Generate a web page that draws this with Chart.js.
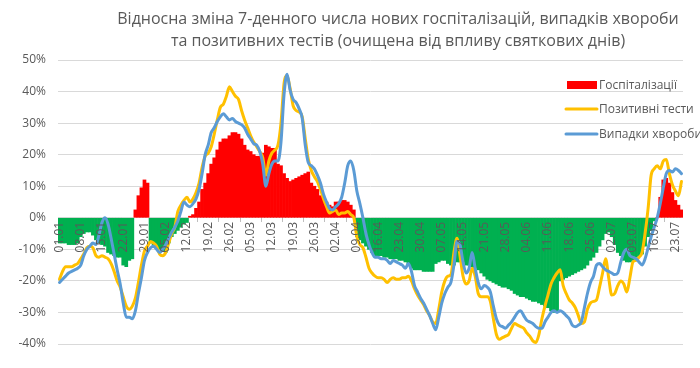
<!DOCTYPE html>
<html><head><meta charset="utf-8">
<script src="https://cdn.jsdelivr.net/npm/chart.js@4.4.0/dist/chart.umd.min.js"></script>
<style>html,body{margin:0;padding:0;background:#fff}#wrap{width:700px;height:368px;position:relative}</style>
</head><body><div id="wrap"><canvas id="c" width="700" height="368"></canvas></div>
<script>
// Categories: daily dates 01.01 .. 25.07 (2021)
const dayCount = 206;
const labels = [];
for (let i = 0; i < dayCount; i++) {
  const d = new Date(Date.UTC(2021, 0, 1 + i));
  labels.push(String(d.getUTCDate()).padStart(2, '0') + '.' + String(d.getUTCMonth() + 1).padStart(2, '0'));
}

const titleLines = [
  'Відносна зміна 7-денного числа нових госпіталізацій, випадків хвороби',
  'та позитивних тестів (очищена від впливу святкових днів)'
];
const seriesNames = ['Госпіталізації', 'Позитивні тести', 'Випадки хвороби'];

// Relative change, % (hospitalizations)
const hospitalizations = [
  -8, -8, -8, -8.5, -8.5, -8.5, -8, -6, -5, -4.5, -4.5, -5.5, -7, -8, -8.5, -9, -11, -11.5, -12, -12.5, -12.5, -15, -15.5, -13.5, -13,
  2.5, 7, 9.5, 12, 11,
  -8, -8.5, -9, -10, -10.5, -11, -8, -6, -5, -4, -3, -2, -1.5,
  0.5, 1, 3, 5, 9, 11, 14, 17, 19, 21.5, 24, 25, 25, 26, 27, 27, 26.5, 25,
  23, 21.5, 21, 20, 19.5, 19.5, 20.5, 23, 22.5, 22, 22, 17, 16.5, 14, 12.5, 11.5, 12, 12.5, 13, 13.5, 14, 14.5, 11, 10, 9, 7, 6, 5, 4, 3.5, 5, 5, 5.5, 5.5, 5, 4, 2.5,
  -6, -7, -8, -9, -10, -11, -12, -12, -12, -12.5, -12.5, -13, -13, -13, -13.5, -13.5, -14, -15, -16, -16.5, -16.5, -16.5, -17, -17, -17, -17, -14.5, -14, -13.5, -13.5, -14.5, -15, -15,
  -14, -14, -14, -15, -15, -15.5, -16, -16.5, -17.5, -18.5, -19.5, -20, -20.5, -21, -21.5, -22, -22, -22.5, -23, -24, -24.5, -25, -25, -25.5, -26, -26.5, -26.5, -27, -27.5, -28, -28.5, -29.5, -30, -29.5,
  -20, -19.5, -19, -18.5, -18, -17.5, -17, -16.5, -16, -15, -13.5, -12.5, -11, -9, -7, -5, -4.5, -6, -8.5, -11, -12, -13.5, -14, -14, -13.5, -12.5, -12, -11.5, -9, -6, -4,
  -1, 0,
  6.5, 12, 12.5, 11, 8, 5.5, 4, 2.5
];

// Relative change, % (positive tests)
const positiveTests = [
  -19.5, -17, -15.5, -15.5, -15.5, -15, -14.5, -13, -11.5, -9.5, -9, -9.5, -12, -12.5, -12, -12.5, -13, -14.5, -17, -20, -22, -25, -28, -29, -28, -25.5, -20.5, -15, -10.5, -9, -7.5, -8, -9, -11.5,
  -12, -11, -8, -5, -3, 2, 4, 5.5, 6.5, 5, 6, 8, 11, 16, 19.5, 20.5, 22.5, 26.5, 31, 35, 36, 38.5, 41.5, 40, 38.5, 37.5, 34, 31, 28.5, 26, 24, 22.5, 21, 19, 13.5,
  18, 20.5, 21.5, 23, 30, 42.5, 45, 41, 35.5, 34, 33.5, 32, 25, 18.5, 15, 13, 11.5, 9, 6, 3.5, 1.5, 2, 2.5, 1, 1.5, 1.5, 2, 1, 0, -6, -8.5, -9.5, -12.5, -16, -17.5,
  -18.5, -19, -19, -19.5, -20.5, -19.5, -19, -19.5, -19.5, -19, -19, -18.5, -20, -22.5, -24.5, -26, -27.5, -29.5, -31, -33, -33.5, -29, -23.5, -20, -18.5, -18, -11, -6.5, -12, -18.5, -21, -20,
  -16, -18.5, -24, -25, -25, -25, -26.5, -32, -37, -38.5, -38, -37.5, -37, -35, -33.5, -34, -34.5, -35, -36.5, -37.5, -39, -39.5, -37, -32, -28, -24.5, -21, -19, -17.5, -16.5,
  -21.5, -24, -26, -27, -28.5, -31, -33.5, -33, -29, -27, -26.5, -26, -22, -17.5, -13, -19, -24.5, -24, -21.5, -20, -21, -23.5, -19, -14, -13.5, -12.5, -11, -5, 3, 13.5,
  15.5, 16.5, 15.5, 18, 18.5, 14, 10.5, 8.5, 7, 11.5
];

// Relative change, % (cases)
const cases = [
  -20.5, -19.5, -18.5, -17.5, -17, -16.5, -16, -15, -12, -10, -9, -8, -8.5, -5.5, -1.5, 0, -2, -6.5, -11.5, -16.5, -21, -27, -31.5, -31.5, -32, -29.5, -24, -19, -13.5, -11, -9.5, -9, -10, -11,
  -10, -8.5, -6.5, -4.5, -3, -1, 2, 5, 4, 3.5, 4.5, 6, 9, 14, 20, 23, 27, 28.5, 30.5, 32, 33, 32, 31, 31.5, 30.5, 30, 29.5, 28.5, 26.5, 25, 23.5, 23, 21, 17, 10,
  14, 17, 18, 18, 24, 39, 45.5, 40.5, 37.5, 36.5, 34.5, 31.5, 23, 17.5, 16.5, 15.5, 13.5, 11, 7.5, 5, 3, 2.5, 3.5, 4.5, 6.5, 11, 16.5, 18, 15, 8.5, 4.5, 0, -5, -8.5,
  -11, -12.5, -12.5, -13, -13, -13.5, -14.5, -13.5, -14, -14.5, -15, -16, -14.5, -17, -21.5, -23.5, -25.5, -27, -29, -31, -33.5, -35.5, -31.5, -27, -24, -22, -20.5, -15, -7.5, -8.5, -14, -17.5, -16,
  -11, -16, -20.5, -22.5, -21.5, -22, -23.5, -28, -32, -34, -34.5, -35, -34, -33, -31.5, -30, -29.5, -31, -32.5, -33, -33.5, -34.5, -35, -35, -33, -31.5, -30, -29.5, -30, -29.5, -30, -31, -32, -34, -34.5, -34, -33,
  -28.5, -24, -20.5, -18.5, -15, -14.5, -15.5, -16.5, -17, -17.5, -18, -17.5, -14, -11, -10, -12, -12.5, -13, -14, -15, -13, -9.5, -6, -3, 0, 4.5, 9.5, 14, 15, 14.5, 15.5, 15, 14
];

const yMin = -40, yMax = 50, yStep = 10;

const RED = '#FF0000', GREEN = '#00B050', YELLOW = '#FFC000', BLUE = '#5B9BD5', TEXT = '#595959', GRID = '#D9D9D9';
const FONT = '"Open Sans", "Noto Sans", sans-serif';

const titlePlugin = {
  id: 'customTitle',
  afterDraw(chart) {
    const ctx = chart.ctx;
    ctx.save();
    ctx.fillStyle = TEXT;
    ctx.font = '16px ' + FONT;
    ctx.textAlign = 'center';
    ctx.textBaseline = 'middle';
    ctx.fillText(titleLines[0], 398, 19);
    ctx.fillText(titleLines[1], 398, 41);
    ctx.restore();
  }
};

const legendPlugin = {
  id: 'customLegend',
  afterDraw(chart) {
    const ctx = chart.ctx;
    ctx.save();
    ctx.font = '12px ' + FONT;
    ctx.textBaseline = 'middle';
    ctx.textAlign = 'left';
    const x0 = 566, x1 = 597, tx = 599;
    const ys = [85, 109, 134];
    ctx.fillStyle = RED;
    ctx.fillRect(x0 + 1, ys[0] - 4, x1 - x0 - 1, 8);
    [[YELLOW, ys[1]], [BLUE, ys[2]]].forEach(([c, y]) => {
      ctx.strokeStyle = c; ctx.lineWidth = 3; ctx.lineCap = 'round';
      ctx.beginPath(); ctx.moveTo(x0, y); ctx.lineTo(x1, y); ctx.stroke();
    });
    ctx.fillStyle = TEXT;
    seriesNames.forEach((n, i) => ctx.fillText(n, tx, ys[i] + 0.5));
    ctx.restore();
  }
};

new Chart(document.getElementById('c'), {
  type: 'bar',
  data: {
    labels: labels,
    datasets: [
      { type: 'bar', label: seriesNames[0], data: hospitalizations,
        backgroundColor: hospitalizations.map(v => v >= 0 ? RED : GREEN),
        barPercentage: 1, categoryPercentage: 1, borderWidth: 0, order: 3 },
      { type: 'line', label: seriesNames[1], data: positiveTests, borderColor: YELLOW, backgroundColor: YELLOW,
        borderWidth: 3, pointRadius: 0, cubicInterpolationMode: 'monotone', borderJoinStyle: 'round', borderCapStyle: 'round', order: 2 },
      { type: 'line', label: seriesNames[2], data: cases, borderColor: BLUE, backgroundColor: BLUE,
        borderWidth: 3, pointRadius: 0, cubicInterpolationMode: 'monotone', borderJoinStyle: 'round', borderCapStyle: 'round', order: 1 }
    ]
  },
  options: {
    responsive: false, animation: false, devicePixelRatio: 1,
    layout: { padding: { left: 0, right: 17, top: 60, bottom: 24 } },
    plugins: { legend: { display: false }, title: { display: false }, tooltip: { enabled: false } },
    scales: {
      x: {
        position: { y: 0 }, offset: true,
        grid: { display: true, drawOnChartArea: false, drawTicks: true, tickLength: 4, color: '#BFBFBF' },
        border: { display: false },
        ticks: {
          autoSkip: false, maxRotation: 90, minRotation: 90, padding: 0, color: TEXT, z: 1,
          font: { family: FONT, size: 12 },
          callback: function (v, i) { return i % 7 === 0 ? this.getLabelForValue(v) : null; }
        }
      },
      y: {
        min: yMin, max: yMax,
        ticks: { stepSize: yStep, callback: v => v + '%', color: TEXT, padding: 12, font: { family: FONT, size: 12 } },
        grid: { color: GRID, drawTicks: false, lineWidth: 1 },
        border: { display: false },
        afterFit(s) { s.width = 58; }
      }
    }
  },
  plugins: [titlePlugin, legendPlugin]
});
</script>
</body></html>
